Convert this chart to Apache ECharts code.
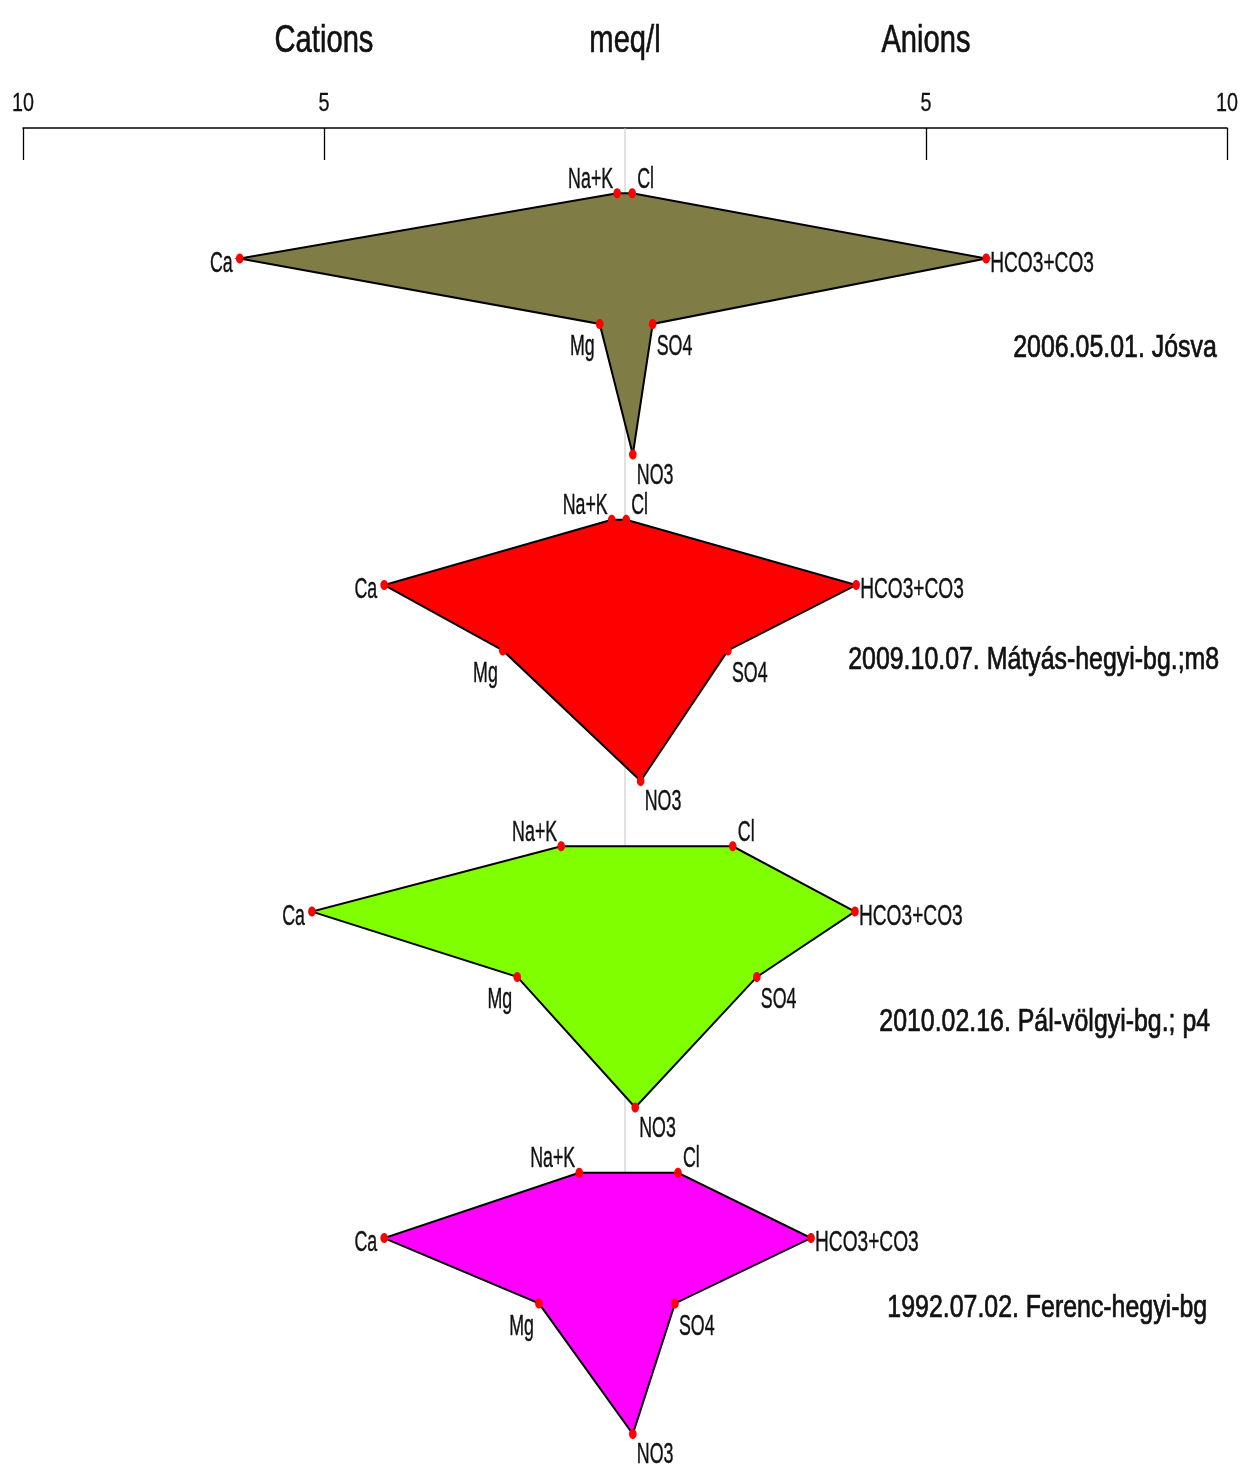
<!DOCTYPE html>
<html>
<head>
<meta charset="utf-8">
<title>Stiff diagrams</title>
<script src="https://cdn.jsdelivr.net/npm/echarts@6/dist/echarts.min.js"></script>
<style>
  html, body { margin: 0; padding: 0; background: #fff; }
  #chart { width: 1241px; height: 1466px; }
</style>
</head>
<body>
<div id="chart"></div>
<script>
// Stiff diagrams: cations to the left, anions to the right (meq/l)
const samples = [
  '2006.05.01. Jósva',
  '2009.10.07. Mátyás-hegyi-bg.;m8',
  '2010.02.16. Pál-völgyi-bg.; p4',
  '1992.07.02. Ferenc-hegyi-bg'
];
const cationNames = ['Na+K', 'Ca', 'Mg'];
const anionNames = ['Cl', 'HCO3+CO3', 'SO4', 'NO3'];

// cations (meq/l)
const naK  = [0.13, 0.22, 1.06, 0.76];
const ca   = [6.40, 4.00, 5.20, 4.00];
const mg   = [0.42, 2.03, 1.79, 1.43];
// anions (meq/l)
const cl   = [0.12, 0.02, 1.79, 0.88];
const hco3 = [6.00, 3.84, 3.82, 3.09];
const so4  = [0.46, 1.71, 2.19, 0.83];
const no3  = [0.13, 0.26, 0.17, 0.13];

const tickValues = [-10, -5, 5, 10];
const headers = ['Cations', 'meq/l', 'Anions'];
const headerAt = [-5, 0, 5];

const fills = ['#7f7d45', '#ff0000', '#80ff00', '#ff00ff'];

// layout: each diagram takes 5 rows (Na+K/Cl, Ca/HCO3, Mg/SO4, gap, NO3)
const ROWS_PER_SAMPLE = 5;
const nameRow = [3.37, 8.15, 13.69, 18.07];
const nameAt = [9.83, 9.87, 9.72, 9.67];
const headerRow = -1.33;
const tickLabelRow = -0.37;

// narrow face: Arial-metric font squeezed horizontally
const FONT = '"Liberation Sans", Arial, sans-serif';
const NARROW = 0.81;
const TEXT = '#111111';

function label(text, pt, dx, dy, align, vAlign, size, sy, sx, weight) {
  return {
    type: 'text',
    x: pt[0] + dx,
    y: pt[1] + dy,
    scaleX: sx || NARROW,
    scaleY: sy,
    z2: 10,
    style: {
      text: text,
      x: 0, y: 0,
      fill: TEXT,
      stroke: TEXT,
      lineWidth: weight || 0.3,
      font: size + 'px ' + FONT,
      align: align,
      verticalAlign: vAlign
    }
  };
}

function renderSample(params, api) {
  const i = params.dataIndex;
  const base = 1 + ROWS_PER_SAMPLE * i;
  const P = (x, r) => api.coord([x, base + r]);
  const pNaK = P(-naK[i], 0);
  const pCa = P(-ca[i], 1);
  const pMg = P(-mg[i], 2);
  const pCl = P(cl[i], 0);
  const pHco3 = P(hco3[i], 1);
  const pSo4 = P(so4[i], 2);
  const pNo3 = P(no3[i], 4);

  const ring = [pNaK, pCa, pMg, pNo3, pSo4, pHco3, pCl];
  const children = [{
    type: 'polygon',
    shape: { points: ring },
    style: { fill: fills[i], stroke: '#000', lineWidth: 2 }
  }];
  ring.forEach(p => children.push({
    type: 'ellipse',
    shape: { cx: p[0], cy: p[1], rx: 3.8, ry: 5 },
    style: { fill: '#ff0000' },
    z2: 5
  }));
  const fs = 22, sy = 1.36;
  children.push(
    label(cationNames[0], pNaK, -4, 1, 'right', 'bottom', fs, sy),
    label(cationNames[1], pCa, -7, 5, 'right', 'middle', fs, sy),
    label(cationNames[2], pMg, -5, 8, 'right', 'top', fs, sy),
    label(anionNames[0], pCl, 5, 1, 'left', 'bottom', fs, sy),
    label(anionNames[1], pHco3, 4, 5, 'left', 'middle', fs, sy, 0.87),
    label(anionNames[2], pSo4, 4, 8, 'left', 'top', fs, sy),
    label(anionNames[3], pNo3, 4, 6, 'left', 'top', fs, sy)
  );
  const namePt = api.coord([nameAt[i], nameRow[i]]);
  children.push(label(samples[i], namePt, 0, 0, 'right', 'middle', 30, 1.06, 0.83, 0.7));
  return { type: 'group', children: children };
}

function renderHeader(params, api) {
  const i = params.dataIndex;
  const p = api.coord([headerAt[i], headerRow]);
  return label(headers[i], p, 0, 0, 'center', 'middle', 36, 1.09, NARROW, 0.6);
}

function renderTickLabel(params, api) {
  const v = api.value(0);
  const p = api.coord([v, tickLabelRow]);
  return label(String(Math.abs(v)), p, 0, 0, 'center', 'middle', 26, 1.0, 0.76);
}

const chart = echarts.init(document.getElementById('chart'), null, { renderer: 'canvas' });

chart.setOption({
  animation: false,
  backgroundColor: '#ffffff',
  grid: { left: 23, right: 14, top: 128, bottom: 32 },
  xAxis: {
    type: 'value',
    position: 'top',
    min: -10,
    max: 10,
    interval: 5,
    axisLine: { show: true, onZero: false, lineStyle: { color: '#000', width: 1.5 } },
    axisTick: {
      show: true,
      inside: true,
      length: 32,
      customValues: tickValues,
      lineStyle: { color: '#000', width: 1.3 }
    },
    axisLabel: { show: false },
    splitLine: { show: false }
  },
  yAxis: {
    type: 'value',
    inverse: true,
    min: 0,
    max: 20,
    show: false
  },
  series: [
    {
      // central zero line
      type: 'line',
      silent: true,
      symbol: 'none',
      z: 1,
      lineStyle: { color: '#c4c4c4', width: 1 },
      data: [[0, 0], [0, 1 + ROWS_PER_SAMPLE * (samples.length - 1)]]
    },
    {
      type: 'custom',
      z: 3,
      silent: true,
      renderItem: renderSample,
      data: samples.map((s, i) => [i])
    },
    {
      type: 'custom',
      z: 3,
      silent: true,
      renderItem: renderHeader,
      data: headers.map((h, i) => [headerAt[i]])
    },
    {
      type: 'custom',
      z: 3,
      silent: true,
      renderItem: renderTickLabel,
      data: tickValues.map(v => [v])
    }
  ]
});
</script>
</body>
</html>
